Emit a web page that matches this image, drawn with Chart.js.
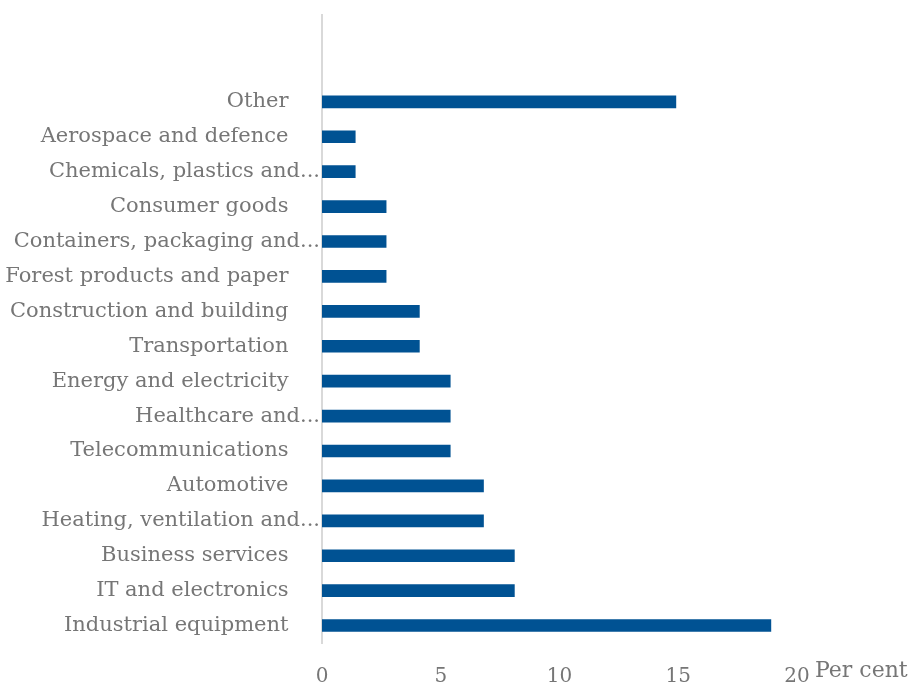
<!DOCTYPE html>
<html lang="en">
<head>
    <meta charset="UTF-8">
    <title>Sectors - per cent</title>
    <script src="https://cdn.jsdelivr.net/npm/chart.js"></script>
    <style>
        body { margin: 0; background: #fff; }
        .wrap { width: 914px; height: 684px; position: relative; }
    </style>
</head>
<body>
    <div class="wrap"><canvas id="chart"></canvas></div>
    <script>
        // top to bottom, two empty slots above "Other"
        const sectors = [
            '', '',
            'Other',
            'Aerospace and defence',
            'Chemicals, plastics and...',
            'Consumer goods',
            'Containers, packaging and...',
            'Forest products and paper',
            'Construction and building',
            'Transportation',
            'Energy and electricity',
            'Healthcare and...',
            'Telecommunications',
            'Automotive',
            'Heating, ventilation and...',
            'Business services',
            'IT and electronics',
            'Industrial equipment'
        ];
        const shares = [null, null, 14.9, 1.4, 1.4, 2.7, 2.7, 2.7, 4.1, 4.1, 5.4, 5.4, 5.4, 6.8, 6.8, 8.1, 8.1, 18.9];
        const xTicks = [0, 5, 10, 15, 20];
        const unitLabel = 'Per cent';

        const textGrey = '#767676';
        const serif = "'DejaVu Serif', 'Liberation Serif', serif";

        // labels that are not cut off sit a bit left of the axis
        const shownLabels = sectors.map(s => (s && !s.endsWith('...')) ? s + '\u2002\u2002\u2002' : s);

        const unitPlugin = {
            id: 'unitLabel',
            afterDraw(chart) {
                const x = chart.scales.x;
                const ctx = chart.ctx;
                ctx.save();
                ctx.font = '22px ' + serif;
                ctx.fillStyle = textGrey;
                ctx.textBaseline = 'middle';
                ctx.textAlign = 'left';
                ctx.fillText(unitLabel, x.getPixelForValue(20) + 18, 671);
                ctx.restore();
            }
        };

        new Chart(document.getElementById('chart'), {
            type: 'bar',
            data: {
                labels: shownLabels,
                datasets: [{
                    data: shares,
                    backgroundColor: '#005293',
                    barThickness: 12
                }]
            },
            options: {
                indexAxis: 'y',
                responsive: true,
                maintainAspectRatio: false,
                animation: false,
                layout: { padding: { left: 0, right: 117, top: 12, bottom: 0 } },
                plugins: { legend: { display: false }, tooltip: { enabled: false } },
                scales: {
                    x: {
                        min: 0,
                        max: 20,
                        afterBuildTicks: s => { s.ticks = xTicks.map(v => ({ value: v })); },
                        afterFit: s => { s.height = 41; },
                        grid: { display: false, drawTicks: false },
                        border: { display: false },
                        ticks: { color: textGrey, font: { family: serif, size: 20 }, padding: 22 }
                    },
                    y: {
                        afterFit: s => { s.width = 322; },
                        grid: { display: false, drawTicks: false },
                        border: { display: true, color: '#d9d9d9', width: 2 },
                        ticks: { color: textGrey, font: { family: serif, size: 21 }, padding: 2, autoSkip: false }
                    }
                }
            },
            plugins: [unitPlugin]
        });
    </script>
</body>
</html>
